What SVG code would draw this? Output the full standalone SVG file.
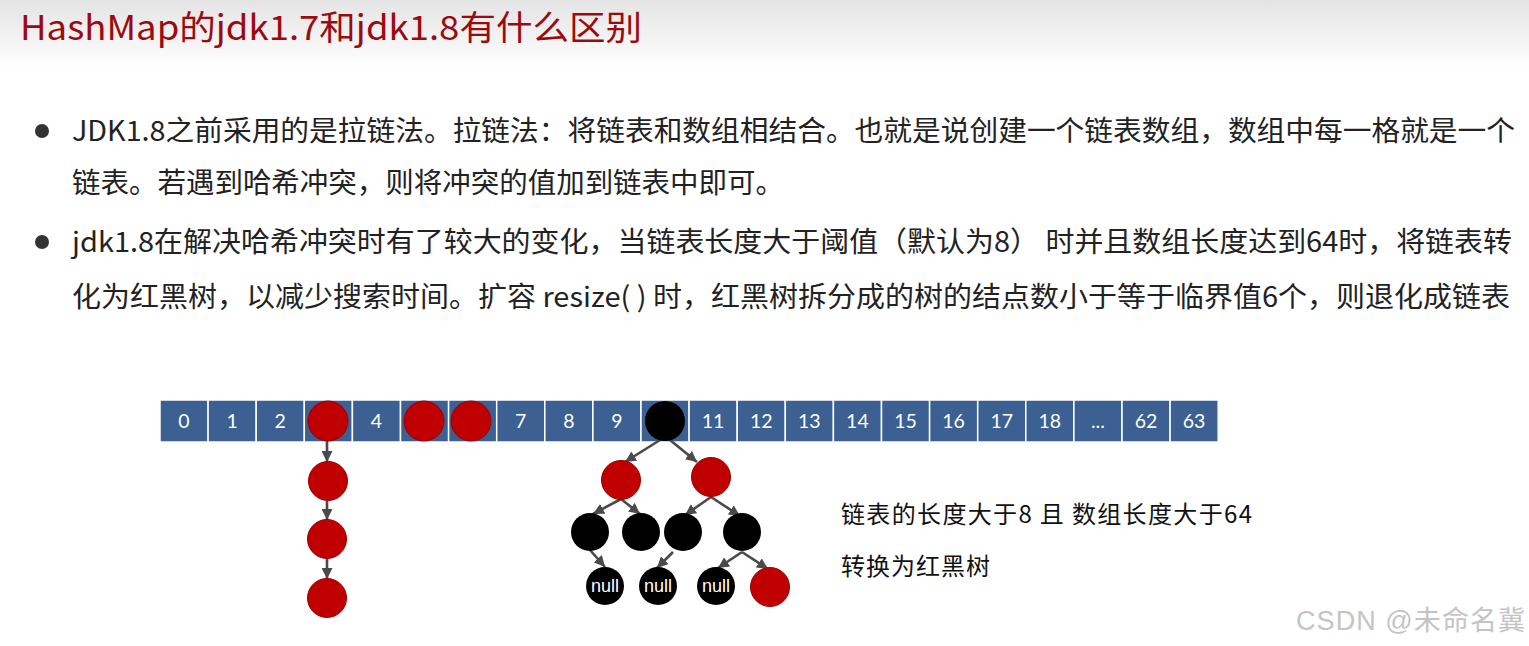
<svg xmlns="http://www.w3.org/2000/svg" width="1529" height="646" viewBox="0 0 1529 646">
<defs>
<linearGradient id="top" x1="0" y1="0" x2="0" y2="1">
<stop offset="0" stop-color="#e4e4e4"/>
<stop offset="0.5" stop-color="#f1f1f1"/>
<stop offset="1" stop-color="#ffffff"/>
</linearGradient>
<marker id="ah" markerUnits="userSpaceOnUse" markerWidth="11" markerHeight="11" refX="10" refY="5" orient="auto" viewBox="0 0 10 10">
<path d="M0,0 L10,5 L0,10 z" fill="#4a4a4a"/>
</marker>
<style>
.t{font-family:"Microsoft YaHei","Noto Sans CJK SC","Noto Sans",sans-serif;}
.title{font-size:34px;fill:#9c0a10;}
.body{font-size:28px;fill:#222222;}
.cap{font-size:24px;fill:#111111;}
.cell{fill:#3b6091;stroke:#ffffff;stroke-width:1.5;}
.cl{font-family:Lato,"Liberation Sans",sans-serif;font-size:19.5px;fill:#ffffff;text-anchor:middle;}
.red{fill:#c00000;stroke:#9a0000;stroke-width:1;}
.blk{fill:#000000;}
.nul{font-family:"Liberation Sans",Arial,sans-serif;font-size:18px;fill:#ffffff;text-anchor:middle;}
.ln{stroke:#4a4a4a;stroke-width:2.6;fill:none;marker-end:url(#ah);}
.bul{fill:#333333;}
.wm{font-family:"Liberation Sans","Noto Sans CJK SC",sans-serif;font-size:27px;fill:#c4c4c4;}
</style>
</defs>
<rect x="0" y="0" width="1529" height="646" fill="#ffffff"/>
<rect x="0" y="0" width="1529" height="68" fill="url(#top)"/>

<g id="title"><text class="t title" x="20" y="40" textLength="622" lengthAdjust="spacingAndGlyphs">HashMap的jdk1.7和jdk1.8有什么区别</text></g>

<g id="bullets">
<circle class="bul" cx="42" cy="131" r="7"/>
<circle class="bul" cx="42" cy="242" r="7"/>
<text class="t body" x="72" y="141" textLength="1443" lengthAdjust="spacingAndGlyphs">JDK1.8之前采用的是拉链法。拉链法：将链表和数组相结合。也就是说创建一个链表数组，数组中每一格就是一个</text>
<text class="t body" x="72" y="193" textLength="712" lengthAdjust="spacingAndGlyphs">链表。若遇到哈希冲突，则将冲突的值加到链表中即可。</text>
<text class="t body" x="72" y="252" textLength="1440" lengthAdjust="spacingAndGlyphs">jdk1.8在解决哈希冲突时有了较大的变化，当链表长度大于阈值（默认为8） 时并且数组长度达到64时，将链表转</text>
<text class="t body" x="72" y="307" textLength="1438" lengthAdjust="spacingAndGlyphs">化为红黑树，以减少搜索时间。扩容 resize( ) 时，红黑树拆分成的树的结点数小于等于临界值6个，则退化成链表</text>
</g>

<g id="array">
<rect class="cell" x="160" y="400" width="48.1" height="42"/><text class="cl" x="184" y="428">0</text>
<rect class="cell" x="208.1" y="400" width="48.1" height="42"/><text class="cl" x="232.1" y="428">1</text>
<rect class="cell" x="256.2" y="400" width="48.1" height="42"/><text class="cl" x="280.2" y="428">2</text>
<rect class="cell" x="304.3" y="400" width="48.1" height="42"/>
<rect class="cell" x="352.4" y="400" width="48.1" height="42"/><text class="cl" x="376.4" y="428">4</text>
<rect class="cell" x="400.5" y="400" width="48.1" height="42"/>
<rect class="cell" x="448.6" y="400" width="48.1" height="42"/>
<rect class="cell" x="496.7" y="400" width="48.1" height="42"/><text class="cl" x="520.7" y="428">7</text>
<rect class="cell" x="544.8" y="400" width="48.1" height="42"/><text class="cl" x="568.8" y="428">8</text>
<rect class="cell" x="592.9" y="400" width="48.1" height="42"/><text class="cl" x="616.9" y="428">9</text>
<rect class="cell" x="641" y="400" width="48.1" height="42"/>
<rect class="cell" x="689.1" y="400" width="48.1" height="42"/><text class="cl" x="713.1" y="428">11</text>
<rect class="cell" x="737.2" y="400" width="48.1" height="42"/><text class="cl" x="761.2" y="428">12</text>
<rect class="cell" x="785.3" y="400" width="48.1" height="42"/><text class="cl" x="809.3" y="428">13</text>
<rect class="cell" x="833.4" y="400" width="48.1" height="42"/><text class="cl" x="857.4" y="428">14</text>
<rect class="cell" x="881.5" y="400" width="48.1" height="42"/><text class="cl" x="905.5" y="428">15</text>
<rect class="cell" x="929.6" y="400" width="48.1" height="42"/><text class="cl" x="953.6" y="428">16</text>
<rect class="cell" x="977.7" y="400" width="48.1" height="42"/><text class="cl" x="1001.7" y="428">17</text>
<rect class="cell" x="1025.8" y="400" width="48.1" height="42"/><text class="cl" x="1049.8" y="428">18</text>
<rect class="cell" x="1073.9" y="400" width="48.1" height="42"/><text class="cl" x="1097.9" y="428">...</text>
<rect class="cell" x="1122" y="400" width="48.1" height="42"/><text class="cl" x="1146" y="428">62</text>
<rect class="cell" x="1170.1" y="400" width="48.1" height="42"/><text class="cl" x="1194.1" y="428">63</text>
</g>

<g id="connectors">
<line class="ln" x1="327" y1="441" x2="327" y2="462"/>
<line class="ln" x1="327" y1="501" x2="327" y2="520"/>
<line class="ln" x1="327" y1="559" x2="327" y2="579"/>
<line class="ln" x1="660" y1="440" x2="625" y2="462"/>
<line class="ln" x1="670" y1="440" x2="697" y2="462"/>
<line class="ln" x1="621" y1="499" x2="593" y2="514"/>
<line class="ln" x1="621" y1="499" x2="640" y2="514"/>
<line class="ln" x1="711" y1="497" x2="685" y2="515"/>
<line class="ln" x1="711" y1="497" x2="740" y2="516"/>
<line class="ln" x1="590" y1="550" x2="605" y2="567"/>
<line class="ln" x1="673" y1="552" x2="657" y2="568"/>
<line class="ln" x1="742" y1="552" x2="718" y2="568"/>
<line class="ln" x1="742" y1="552" x2="768" y2="569"/>
</g>

<g id="bucket3"><circle class="red" cx="328" cy="421" r="20"/></g>
<g id="bucket5"><circle class="red" cx="424" cy="421" r="20"/></g>
<g id="bucket6"><circle class="red" cx="471" cy="421" r="20"/></g>
<g id="list1"><circle class="red" cx="328" cy="481" r="19.5"/></g>
<g id="list2"><circle class="red" cx="327" cy="539" r="19.5"/></g>
<g id="list3"><circle class="red" cx="327" cy="598" r="19.5"/></g>

<g id="root"><circle class="blk" cx="665" cy="421" r="20"/></g>
<g id="treeL"><circle class="red" cx="621" cy="480" r="19.5"/></g>
<g id="treeR"><circle class="red" cx="711" cy="477" r="19.5"/></g>
<g id="treeA"><circle class="blk" cx="590" cy="532" r="19"/></g>
<g id="treeB"><circle class="blk" cx="641" cy="532" r="19"/></g>
<g id="treeC"><circle class="blk" cx="683" cy="532" r="19"/></g>
<g id="treeD"><circle class="blk" cx="742" cy="532" r="19"/></g>
<g id="null1"><circle class="blk" cx="605" cy="586" r="19"/><text class="nul" x="605" y="592">null</text></g>
<g id="null2"><circle class="blk" cx="658" cy="586" r="19"/><text class="nul" x="658" y="592">null</text></g>
<g id="null3"><circle class="blk" cx="716" cy="586" r="19"/><text class="nul" x="716" y="592">null</text></g>
<g id="treeE"><circle class="red" cx="770" cy="587" r="19.5"/></g>

<g id="caption">
<text class="t cap" x="841" y="523" textLength="411">链表的长度大于8 且 数组长度大于64</text>
<text class="t cap" x="841" y="575" textLength="149">转换为红黑树</text>
</g>

<g id="watermark">
<text class="wm" x="1296" y="630" textLength="229">CSDN @未命名冀</text>
</g>
</svg>
